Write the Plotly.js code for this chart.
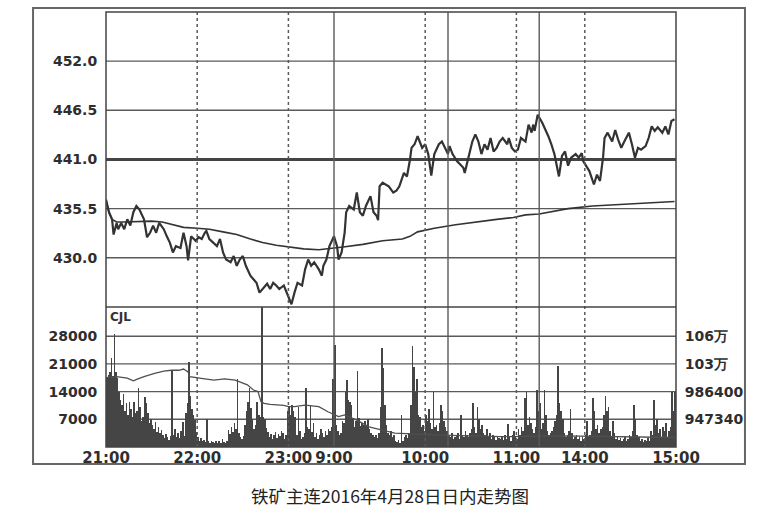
<!DOCTYPE html>
<html>
<head>
<meta charset="utf-8">
<script src="https://cdn.plot.ly/plotly-3.0.1.min.js"></script>
<style>
  body { margin: 0; background: #fff; }
  #chart { width: 764px; height: 517px; }
</style>
</head>
<body>
<div id="chart"></div>
<script>
///////////////////////////////////////////////  data  /////////////////////////////////////////////////////////
// x is the trading minute since 21:00 (night 21:00-23:30, day 9:00-10:15, 10:30-11:30, 13:30-15:00)

var priceMin = [0,2,4,5,7,8,10,12,14,16,18,20,22,25,27,29,31,33,35,38,40,42,44,46,49,51,53,54,56,59,
  61,63,65,66,68,73,75,77,79,82,84,86,88,90,92,95,97,99,101,103,106,108,110,112,114,117,119,121,122,124,
  126,129,131,133,135,137,140,142,143,145,147,150,152,153,155,157,158,160,163,165,167,169,171,174,176,178,179,180,182,186,
  189,191,193,196,198,200,201,203,205,208,210,212,214,216,219,221,223,225,226,228,231,233,235,236,238,241,243,245,247,249,
  251,253,255,257,259,261,264,265,267,269,271,273,276,278,280,281,282,284,287,289,291,293,295,298,300,302,304,306,309,311,
  313,314,316,318,321,323,325,327,328,330,333,335,337,339,341,344,346,348,350,352,355,357,359,361,363,366,368,370,372,374];
var price = [436.5,435.1,434.3,432.6,433.9,433.2,433.9,433.2,434.3,433.6,435.1,435.8,435.4,434.3,432.3,432.8,433.6,432.8,433.9,433.2,
  432.4,431.7,430.6,431.3,431.1,432.8,431.3,429.7,432.4,431.9,432.3,432.1,432.8,433.0,432.1,431.3,432.1,430.6,429.8,429.5,
  430.2,429.1,429.8,430.2,429.1,428.0,427.6,427.2,426.1,426.5,427.1,426.5,427.2,426.9,426.5,426.9,426.1,425.4,424.8,426.1,
  427.2,426.9,428.7,429.8,429.1,429.5,428.7,428.0,429.1,429.8,431.3,432.4,431.3,429.8,430.6,432.8,435.1,435.8,435.4,437.3,
  435.1,434.7,435.8,436.9,435.1,434.7,434.2,438.0,438.4,438.0,437.3,437.5,438.0,439.5,439.1,441.0,442.3,442.7,443.6,442.3,
  442.7,441.6,439.2,441.6,442.7,443.0,442.3,441.6,442.5,441.6,440.8,440.4,440.1,439.5,440.8,443.0,443.8,443.0,441.6,442.7,
  442.1,443.4,441.9,442.3,443.0,443.4,442.7,443.4,442.3,441.9,442.1,443.4,443.0,444.9,444.0,444.9,444.2,446.0,445.1,444.4,
  443.6,442.7,441.6,439.1,441.4,441.9,440.3,441.2,441.6,441.2,441.7,440.8,440.3,439.7,438.2,439.3,438.6,441.2,443.4,444.0,
  443.0,444.3,443.2,442.3,443.0,444.0,442.7,441.2,442.3,442.1,442.5,443.4,444.7,444.2,444.6,444.0,444.7,443.8,445.3,445.5];

var avgMin = [0,2,4,7,12,22,30,37,44,51,60,68,77,86,95,103,112,121,130,140,147,156,169,172,182,195,200,205,216,230,
  246,257,268,276,285,298,304,320,342,360,374];
var avgPrice = [436.5,435.0,434.3,434.0,434.0,434.1,434.1,434.0,433.7,433.4,433.3,433.2,432.9,432.6,432.1,431.7,431.4,431.2,431.0,430.9,
  431.0,431.2,431.5,431.6,431.9,432.1,432.4,432.9,433.3,433.7,434.1,434.3,434.5,434.8,434.9,435.3,435.5,435.8,436.0,436.2,436.3];

// one bar per minute, 375 minutes
var volume = [
  17500,18200,19000,22400,18000,28500,19000,17500,14000,12000,
  10500,13500,9000,11000,8000,11500,9500,7500,11400,8500,
  9000,14900,10000,6500,7500,12700,11000,8500,6000,7000,
  5500,4500,6200,3800,5000,3500,4200,3000,2200,3200,
  2600,1800,2800,19400,3000,4600,2500,3500,2200,4000,
  6400,2800,8500,11000,21600,13000,9500,8000,6800,3800,
  2500,1600,2200,1400,1800,1200,7000,1500,1000,1400,
  1200,900,1600,1100,1400,1000,2000,1200,900,1500,
  4200,3200,5000,3800,6000,4500,17300,3500,2500,2000,
  2800,5500,9000,11400,14800,9800,7000,4500,5500,11500,
  8000,7600,38000,7600,7000,4800,3800,2500,3200,2000,
  3000,3800,2400,3400,2800,4000,3600,2000,3000,9000,
  10000,8000,10500,9000,7500,3000,10000,4000,2000,2500,
  3500,14800,5000,4500,10500,3800,6000,2500,3500,2000,
  3000,4500,3500,2500,4000,3000,4500,4000,5000,17300,
  25800,5500,4000,3000,3500,6500,6000,13900,16900,12000,
  11500,10500,7000,5000,6500,19300,7300,5400,6000,5500,
  6500,5400,7000,4500,3500,3000,2500,3000,2200,3500,
  10000,24900,19900,10500,5500,3500,3000,4000,2500,3000,
  1500,1200,1800,1000,8100,1500,2500,3000,2200,3500,
  10500,25400,20300,14000,17300,8000,7500,5000,5500,4000,
  8000,6500,9700,6000,4500,14000,5000,5500,4000,6000,
  10500,9000,6500,5000,4000,3000,2500,3500,2000,2500,
  2800,3500,2000,8000,3000,2500,4000,3000,2500,3500,
  4500,11000,5000,3500,10200,7000,4500,5500,3500,3000,
  4500,2500,3500,2000,3000,2500,1800,2800,2200,2000,
  2500,1800,3000,2000,5900,2500,1500,3000,4000,2500,
  2000,4500,3000,5000,4000,12500,13800,5500,7500,6000,
  4500,3500,5000,14500,9000,11000,4500,6000,14300,8000,
  4000,3000,3500,4000,5000,6500,8000,20500,11000,9000,
  7000,3500,2500,3000,4000,9700,3500,2000,2500,3000,
  2000,2500,1500,2500,2000,3000,6500,2500,3000,4000,
  12500,9000,4500,5500,3500,4500,5000,8000,13000,9000,
  10000,4000,2500,6500,3500,2000,2500,1800,2200,1500,
  2000,2500,1500,2000,3000,2500,4000,10500,7000,3000,
  2500,1500,2000,1200,1800,1500,2200,1500,4000,3000,
  12000,5500,7000,3500,4500,2500,5000,4000,6000,2500,
  4000,5000,13800,9000,13800];

var oiMin = [0,7,14,18,21,25,32,38,43,48,51,54,55,59,65,71,78,85,93,97,
  100,102,104,108,117,120,124,131,140,146,150,153,157,165,173,177,190,220,260,300,340,374];
var openInt = [1006000,1007600,1005400,1001500,1004300,1007600,1012100,1015400,1016500,1016500,1018200,1014300,1007600,1005900,1004300,1002600,1004300,1002600,995900,988600,
  986400,971900,969700,968500,966900,965200,965200,967400,965200,958000,953500,951200,953500,946200,936700,934500,927800,925000,922800,923900,922200,921700];

var timeTicks = [0, 60, 120, 150, 210, 270, 315, 375];
var timeLabels = ['21:00', '22:00', '23:00', '9:00', '10:00', '11:00', '14:00', '15:00'];
var priceTicks = [430.0, 435.5, 441.0, 446.5, 452.0];
var pctLabels = ['-2.49%', '-1.25%', '0.00%', '+1.25%', '+2.49%'];
var volTicks = [7000, 14000, 21000, 28000];
var oiTicks = [947340, 986400, 1025460, 1064520];
var oiLabels = ['947340', '986400', '103万', '106万'];
var prevSettle = 441.0;
var solidGrid = [150, 225, 285];
var dottedGrid = [60, 120, 210, 270, 315];

///////////////////////////////////////////////  plot  /////////////////////////////////////////////////////////

var ink = '#333';
var gridCol = '#5a5a5a';
var tickFont = {family: 'DejaVu Sans', size: 14, color: '#2e2e2e', weight: 'bold'};
var split = 0.322;

var traces = [
  {x: volume.map((v, i) => i), y: volume, type: 'bar', yaxis: 'y3', offset: 0, width: 1,
   marker: {color: '#454545', line: {width: 0}}, hoverinfo: 'skip'},
  {x: oiMin, y: openInt, type: 'scatter', mode: 'lines', yaxis: 'y4',
   line: {color: '#505050', width: 1.3}, hoverinfo: 'skip'},
  {x: avgMin, y: avgPrice, type: 'scatter', mode: 'lines', yaxis: 'y',
   line: {color: ink, width: 1.6}, hoverinfo: 'skip'},
  {x: priceMin, y: price, type: 'scatter', mode: 'lines', yaxis: 'y',
   line: {color: ink, width: 2.2}, hoverinfo: 'skip'}
];

// grid lines drawn as shapes, so each one gets the same width
var shapes = [];
priceTicks.forEach(function(v) {
  shapes.push({type: 'line', layer: 'below', xref: 'paper', yref: 'y', x0: 0, x1: 1, y0: v, y1: v,
    line: {color: v === prevSettle ? '#444' : gridCol, width: v === prevSettle ? 3 : 1.4}});
});
volTicks.forEach(function(v) {
  shapes.push({type: 'line', layer: 'below', xref: 'paper', yref: 'y3', x0: 0, x1: 1, y0: v, y1: v,
    line: {color: gridCol, width: 1.4}});
});
solidGrid.forEach(function(t) {
  shapes.push({type: 'line', xref: 'x', yref: 'paper', x0: t, x1: t, y0: 0, y1: 1,
    line: {color: gridCol, width: 1.4}});
});
dottedGrid.forEach(function(t) {
  shapes.push({type: 'line', xref: 'x', yref: 'paper', x0: t, x1: t, y0: 0, y1: 1,
    line: {color: gridCol, width: 1.5, dash: 'dot'}});
});
shapes.push({type: 'line', xref: 'paper', yref: 'paper', x0: 0, x1: 1, y0: split, y1: split,
  line: {color: '#444', width: 1.5}});
shapes.push({type: 'rect', xref: 'paper', yref: 'paper', x0: 0, x1: 1, y0: 0, y1: 1,
  line: {color: '#444', width: 1.5}});
// outer frame round the whole picture
shapes.push({type: 'rect', xref: 'paper', yref: 'paper', x0: -0.128, x1: 1.121, y0: -0.039, y1: 1.0092,
  line: {color: '#666', width: 2}});

var layout = {
  width: 764, height: 517,
  margin: {l: 106, r: 88, t: 12, b: 70},
  paper_bgcolor: '#fff', plot_bgcolor: '#fff',
  showlegend: false,
  bargap: 0,
  xaxis: {range: [0, 375], anchor: 'y3', tickvals: timeTicks, ticktext: timeLabels, tickangle: 0,
    showgrid: false, zeroline: false, showline: false, ticks: '',
    tickfont: {family: 'DejaVu Sans', size: 15, color: '#2e2e2e', weight: 'bold'}, fixedrange: true},
  yaxis: {domain: [split, 1], range: [424.5, 457.5], tickvals: priceTicks,
    ticktext: priceTicks.map(v => v.toFixed(1)), showgrid: false,
    zeroline: false, showline: false, ticks: 'outside', ticklen: 5, tickcolor: 'rgba(0,0,0,0)',
    tickfont: tickFont, fixedrange: true},
  yaxis2: {overlaying: 'y', side: 'right', anchor: 'x', range: [424.5, 457.5], tickvals: priceTicks,
    ticktext: pctLabels, showgrid: false, zeroline: false, showline: false, ticks: 'outside', ticklen: 5,
    tickcolor: 'rgba(0,0,0,0)', tickfont: tickFont, fixedrange: true},
  yaxis3: {domain: [0, split], range: [0, 35400], tickvals: volTicks, tickformat: 'd',
    showgrid: false, zeroline: false, showline: false,
    ticks: 'outside', ticklen: 5, tickcolor: 'rgba(0,0,0,0)', tickfont: tickFont, fixedrange: true},
  yaxis4: {overlaying: 'y3', side: 'right', anchor: 'x', range: [908280, 1105812], tickvals: oiTicks,
    ticktext: oiLabels, showgrid: false, zeroline: false, showline: false, ticks: 'outside', ticklen: 5,
    tickcolor: 'rgba(0,0,0,0)', tickfont: tickFont, fixedrange: true},
  shapes: shapes,
  annotations: [
    {xref: 'paper', yref: 'paper', x: 0.004, y: 0.298, xanchor: 'left', yanchor: 'middle', showarrow: false,
     text: 'CJL', font: {family: 'DejaVu Sans', size: 12, color: '#333', weight: 'bold'}},
    {xref: 'paper', yref: 'paper', x: 0.498, y: -0.1126, xanchor: 'center', yanchor: 'middle', showarrow: false,
     text: '铁矿主连2016年4月28日日内走势图', font: {family: 'Noto Sans CJK SC', size: 17.5, color: '#222'}}
  ]
};

Plotly.newPlot('chart', traces, layout, {displayModeBar: false, staticPlot: true});
</script>
</body>
</html>
